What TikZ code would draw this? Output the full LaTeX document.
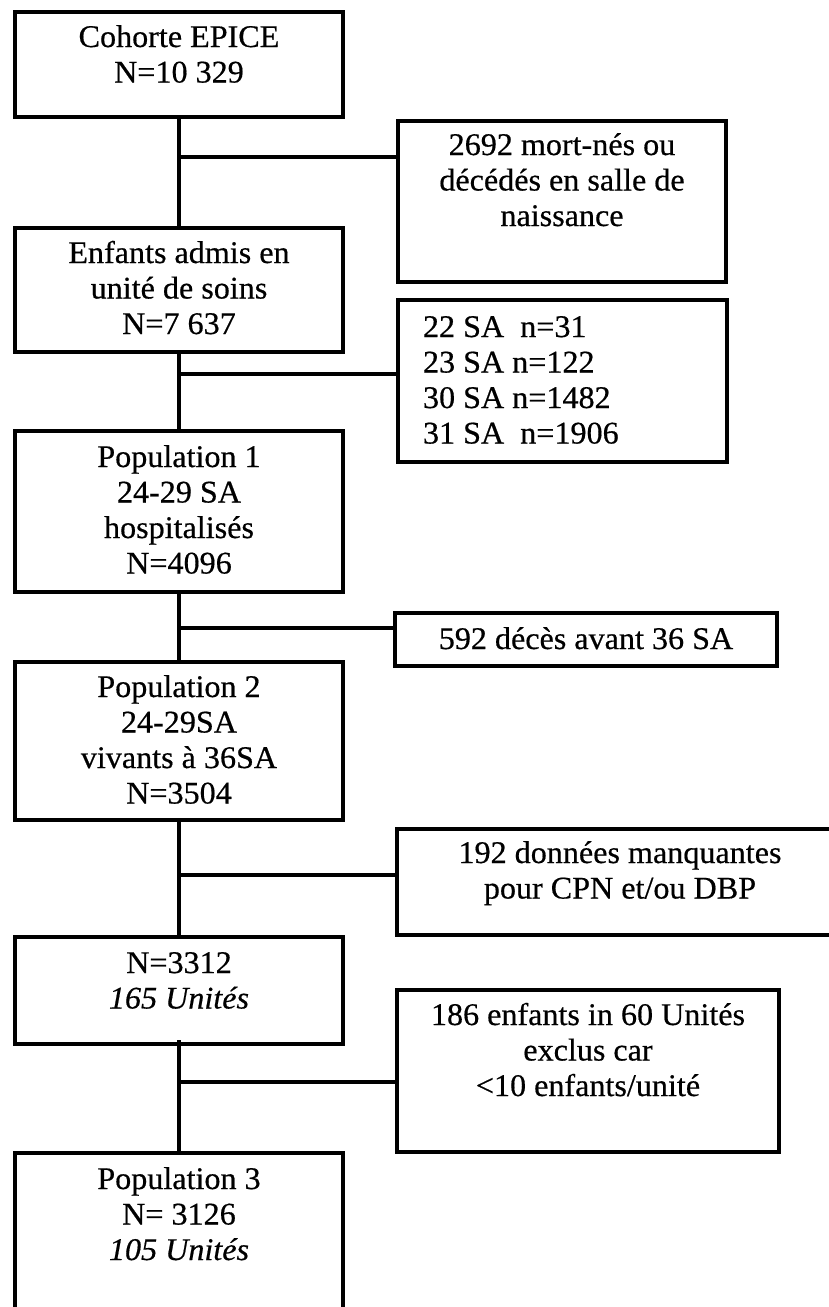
\documentclass[tikz,border=0pt]{standalone}
\usepackage{fontspec}
\setmainfont{Liberation Serif}[FakeStretch=1.02,FakeBold=0.5]
\newcommand\fl{\rule{0pt}{24pt}}
\begin{document}
\begin{tikzpicture}[x=1pt,y=-1pt,
  box/.style={draw=black,line width=4.2pt,outer sep=0pt,inner sep=0pt,anchor=north west},
  txt/.style={inner sep=0pt,outer sep=0pt,align=center,anchor=north,font=\fontsize{31.5}{35.5}\selectfont},
  link/.style={draw=black,line width=4pt}]
\useasboundingbox (0,0) rectangle (829,1307);
\clip (0,0) rectangle (829,1307);
\fill[white] (0,0) rectangle (829,1307);
% main column boxes
\node[box,minimum width=328pt,minimum height=105pt] (b1) at (15,12) {};
\node[box,minimum width=328pt,minimum height=124pt] (b2) at (15,228) {};
\node[box,minimum width=328pt,minimum height=161pt] (b3) at (15,431) {};
\node[box,minimum width=328pt,minimum height=158pt] (b4) at (15,662) {};
\node[box,minimum width=328pt,minimum height=107pt] (b5) at (15,937) {};
\node[box,minimum width=328pt,minimum height=180pt] (b6) at (15,1153) {};
% exclusion boxes
\node[box,minimum width=328pt,minimum height=161pt] (r1) at (398,121) {};
\node[box,minimum width=329pt,minimum height=162pt] (r2) at (398,300) {};
\node[box,minimum width=382pt,minimum height=53pt] (r3) at (395,613) {};
\node[box,minimum width=446pt,minimum height=106pt] (r4) at (397,829) {};
\node[box,minimum width=382pt,minimum height=162pt] (r5) at (397,990) {};
% texts
\node[txt] (t1) at (179,23) {\fl Cohorte EPICE\\N=10 329};
\node[txt] (t2) at (179,239) {\fl Enfants admis en\\unité de soins\\N=7 637};
\node[txt] (t3) at (179,443) {\fl Population 1\\24-29 SA\\hospitalisés\\N=4096};
\node[txt] (t4) at (179,673) {\fl Population 2\\24-29SA\\vivants à 36SA\\N=3504};
\node[txt] (t5) at (179,949) {\fl N=3312\\\textit{165 Unités}};
\node[txt] (t6) at (179,1165) {\fl Population 3\\N= 3126\\\textit{105 Unités}};
\node[txt] (s1) at (562,131) {\fl 2692 mort-nés ou\\décédés en salle de\\naissance};
\node[txt,align=left,anchor=north west] (s2) at (423,313) {\fl 22 SA\ \ n=31\\23 SA n=122\\30 SA n=1482\\31 SA\ \ n=1906};
\node[txt] (s3) at (586,625) {\fl 592 décès avant 36 SA};
\node[txt] (s4) at (620,839) {\fl 192 données manquantes\\pour CPN et/ou DBP};
\node[txt] (s5) at (588,1001) {\fl 186 enfants in 60 Unités\\exclus car\\<10 enfants/unité};
% junctions
\coordinate (j1) at (179,157);
\coordinate (j2) at (179,374);
\coordinate (j3) at (179,628);
\coordinate (j4) at (179,875);
\coordinate (j5) at (179,1082);
% connectors
\draw[link] (b1.south) -- (b2.north);
\draw[link] (b2.south) -- (b3.north);
\draw[link] (b3.south) -- (b4.north);
\draw[link] (b4.south) -- (b5.north);
\draw[link] ([yshift=4pt]b5.south) -- (b6.north);
\draw[link] (j1) -- (j1 -| r1.west);
\draw[link] (j2) -- (j2 -| r2.west);
\draw[link] (j3) -- (j3 -| r3.west);
\draw[link] (j4) -- (j4 -| r4.west);
\draw[link] (j5) -- (j5 -| r5.west);
\end{tikzpicture}
\end{document}
